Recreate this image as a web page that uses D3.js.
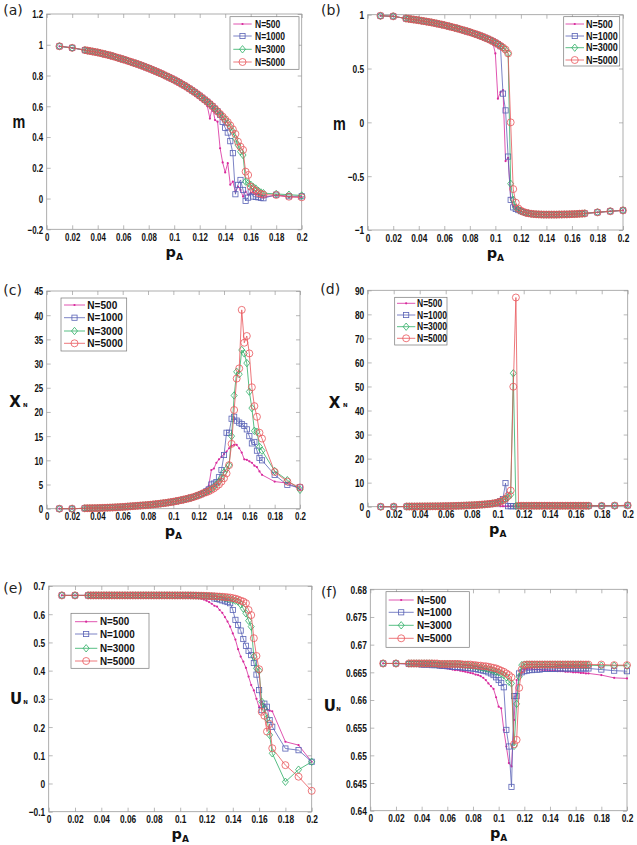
<!DOCTYPE html>
<html><head><meta charset="utf-8">
<script src="https://cdn.jsdelivr.net/npm/d3@7"></script>
<style>body{margin:0;background:#fff}svg{display:block}</style>
</head><body><svg id="chart" width="637" height="845"></svg>
<script>
// ---------- x grid (p_A) ----------
const pA = [0.01,0.02,0.030,0.032,0.034,0.036,0.038,0.040,0.042,0.044,
 0.046,0.048,0.050,0.052,0.054,0.056,0.058,0.060,0.062,0.064,
 0.066,0.068,0.070,0.072,0.074,0.076,0.078,0.080,0.082,0.084,
 0.086,0.088,0.090,0.092,0.094,0.096,0.098,0.100,0.102,0.104,
 0.106,0.108,0.110,0.112,0.114,0.116,0.118,0.120,0.122,0.124,
 0.126,0.128,0.130,0.132,0.134,0.136,0.138,0.140,0.142,0.144,
 0.146,0.148,0.150,0.152,0.154,0.156,0.158,0.160,0.162,0.164,
 0.166,0.168,0.170,0.18,0.19,0.20];
const seriesNames = ["N=500","N=1000","N=3000","N=5000"];
const xTicks = [0,0.02,0.04,0.06,0.08,0.1,0.12,0.14,0.16,0.18,0.2];

// ---------- panel (a): m ----------
const mA_head = [0.99,0.98,0.965,0.962,0.959,0.956,0.953,0.950,0.946,0.942,
 0.938,0.934,0.930,0.925,0.920,0.915,0.910,0.905,0.900,0.894,
 0.889,0.883,0.878,0.872,0.866,0.860,0.853,0.847,0.840,0.833,
 0.826,0.819,0.812,0.804,0.796,0.788,0.780,0.772,0.763,0.754,
 0.744,0.735,0.725,0.714,0.703,0.692,0.680,0.668,0.655,0.642];
const mA_500_tail = [0.600,0.520,0.600,0.510,0.500,0.327,0.235,0.170,0.230,0.090,
 0.110,0.045,0.078,0.056,0.013,0.045,0.024,0.035,0.045,0.030,
 0.030,0.013,0.010,0.020,0.010,0.010];
const mA_1000_tail = [0.629,0.615,0.600,0.584,0.567,0.545,0.498,0.460,0.429,0.373,
 0.295,0.028,0.089,0.121,0.056,-0.015,0.006,0.045,0.013,0.010,
 0.008,0.005,0.002,0.025,0.015,0.015];
const mA_3000_tail = [0.629,0.615,0.600,0.584,0.567,0.550,0.532,0.513,0.490,0.465,
 0.435,0.390,0.348,0.305,0.283,0.110,0.100,0.090,0.075,0.065,
 0.050,0.040,0.035,0.030,0.025,0.020];
const mA_5000_tail = [0.629,0.615,0.600,0.584,0.567,0.550,0.533,0.515,0.497,0.475,
 0.450,0.420,0.370,0.337,0.316,0.175,0.153,0.077,0.060,0.050,
 0.035,0.030,0.025,0.023,0.012,0.008];
const yTicksA = [-0.2,0,0.2,0.4,0.6,0.8,1,1.2];

// ---------- panel (b): m ----------
const mB_head = [0.99,0.985,0.965,0.962,0.958,0.955,0.952,0.948,0.944,0.940,
 0.936,0.932,0.928,0.923,0.918,0.913,0.908,0.903,0.897,0.891,
 0.885,0.879,0.873,0.866,0.859,0.852,0.845,0.838,0.830,0.822];
const mB_500_mid = [0.814,0.805,0.796,0.786,0.776,0.765,0.740,0.640,0.220,0.280,
 0.300,-0.360,-0.330,-0.700,-0.780,-0.800,-0.815,-0.825,-0.832,-0.840];
const mB_1000_mid = [0.814,0.805,0.796,0.786,0.776,0.765,0.753,0.740,0.726,0.707,
 0.267,0.111,-0.318,-0.720,-0.790,-0.805,-0.815,-0.825,-0.832,-0.840];
const mB_3000_mid = [0.814,0.805,0.796,0.786,0.776,0.765,0.753,0.740,0.726,0.711,
 0.695,0.676,0.640,-0.570,-0.720,-0.790,-0.810,-0.825,-0.832,-0.840];
const mB_5000_mid = [0.814,0.805,0.796,0.786,0.776,0.765,0.753,0.740,0.726,0.711,
 0.695,0.676,0.640,0.000,-0.620,-0.746,-0.800,-0.820,-0.832,-0.840];
const mB_low = [-0.845,-0.849,-0.852,-0.854,-0.855,-0.856,-0.857,-0.857,-0.857,-0.857,
 -0.857,-0.857,-0.856,-0.856,-0.855,-0.855,-0.854,-0.853,-0.852,-0.851,
 -0.849,-0.848,-0.846,-0.836,-0.826,-0.818];
const yTicksB = [-1,-0.5,0,0.5,1];

// ---------- panel (c): X_N ----------
const xC_head = [0,0,0.08,0.09,0.10,0.11,0.12,0.13,0.15,0.17,
 0.19,0.21,0.23,0.25,0.28,0.31,0.34,0.37,0.41,0.45,
 0.49,0.53,0.57,0.61,0.65,0.69,0.73,0.77,0.82,0.88,
 0.94,1.00,1.06,1.13,1.20,1.28,1.36,1.45,1.55,1.65];
const xC_500_tail = [1.76,1.88,2.00,2.15,2.30,2.50,2.70,2.95,3.30,3.70,
 4.2,4.8,8.0,8.3,9.5,10.2,10.7,11.3,11.8,12.5,
 13.0,13.2,13.2,12.5,11.6,10.2,10.1,9.8,9.5,8.9,
 8.6,7.7,7.0,5.6,5.3,4.0];
const xC_1000_tail = [1.76,1.88,2.00,2.13,2.27,2.42,2.60,2.80,3.00,3.25,
 3.6,4.0,5.0,5.2,5.5,6.5,8.0,11.1,15.7,15.7,
 18.6,19.0,18.2,17.8,17.5,17.1,16.4,15.0,13.5,13.8,
 12.0,10.5,10.0,7.0,4.9,4.4];
const xC_3000_tail = [1.76,1.88,2.00,2.13,2.27,2.42,2.60,2.80,3.00,3.25,
 3.5,3.8,4.1,4.5,5.0,5.6,6.3,7.5,8.2,9.0,
 15.0,23.4,28.3,27.8,32.8,32.1,30.1,24.2,20.8,16.1,
 15.9,12.8,12.0,7.8,5.9,3.9];
const xC_5000_tail = [1.76,1.88,2.00,2.13,2.27,2.42,2.60,2.80,3.00,3.25,
 3.4,3.6,3.9,4.2,4.6,5.0,5.6,6.3,7.3,9.0,
 13.4,20.4,26.9,29.0,41.1,34.3,35.7,32.1,25.1,21.2,
 19.0,15.7,14.5,7.6,5.6,4.4];
const yTicksC = [0,5,10,15,20,25,30,35,40,45];

// ---------- panel (d): X_N ----------
const xD_head = [0,0,0.08,0.08,0.09,0.09,0.10,0.11,0.12,0.13,
 0.14,0.15,0.16,0.17,0.18,0.20,0.22,0.24,0.26,0.29,
 0.32,0.35,0.38,0.42,0.46,0.50,0.55,0.60,0.65,0.72];
const xD_500_mid = [0.79,0.87,0.96,1.06,1.18,1.32,1.55,2.60,0.2,0.2,
 0.2,0.2,0.2,0.2,0.2,0.2,0.2,0.2,0.2,0.2];
const xD_1000_mid = [0.79,0.87,0.96,1.06,1.18,1.32,1.50,1.75,2.30,3.20,
 9.8,0.2,0.2,0.2,0.2,0.3,0.3,0.3,0.3,0.3];
const xD_3000_mid = [0.79,0.87,0.96,1.06,1.18,1.32,1.50,1.75,2.10,2.60,
 3.2,4.0,5.0,55.5,0.3,0.3,0.3,0.3,0.3,0.3];
const xD_5000_mid = [0.79,0.87,0.96,1.06,1.18,1.32,1.50,1.75,2.10,2.60,
 3.3,4.5,6.7,49.9,87.0,0.4,0.4,0.4,0.4,0.4];
const xD_low = [0.4,0.4,0.4,0.4,0.4,0.4,0.4,0.4,0.4,0.4,
 0.4,0.4,0.4,0.4,0.4,0.4,0.4,0.4,0.4,0.4,
 0.4,0.4,0.4,0.35,0.45,0.55];
const yTicksD = [0,10,20,30,40,50,60,70,80,90];

// ---------- panel (e): U_N ----------
const uE_head = [0.6667,0.6667,0.6667,0.6667,0.6667,0.6667,0.6667,0.6667,0.6667,0.6667,
 0.6667,0.6667,0.6667,0.6667,0.6667,0.6667,0.6667,0.6667,0.6667,0.6667,
 0.6667,0.6667,0.6667,0.6667,0.6667,0.6667,0.6667,0.6667,0.6667,0.6667];
const uE_500_tail = [0.6665,0.6664,0.6663,0.6661,0.6659,0.6656,0.6652,0.6648,0.6643,0.6637,
 0.663,0.662,0.661,0.659,0.657,0.655,0.652,0.648,0.643,0.637,
 0.630,0.627,0.615,0.605,0.590,0.574,0.556,0.532,0.510,0.476,
 0.450,0.432,0.410,0.379,0.349,0.330,0.300,0.270,0.290,0.280,
 0.262,0.258,0.256,0.148,0.136,0.077];
const uE_1000_tail = [0.6667,0.6667,0.6667,0.6666,0.6666,0.6666,0.6665,0.6665,0.6665,0.6664,
 0.6664,0.6662,0.6660,0.6657,0.6654,0.6650,0.6646,0.6640,0.6634,0.6628,
 0.656,0.654,0.652,0.649,0.646,0.643,0.639,0.615,0.580,0.562,
 0.542,0.512,0.488,0.470,0.455,0.427,0.386,0.331,0.260,0.283,
 0.272,0.225,0.201,0.124,0.118,0.077];
const uE_3000_tail = [0.6667,0.6667,0.6667,0.6667,0.6666,0.6666,0.6666,0.6666,0.6665,0.6665,
 0.6665,0.6663,0.6661,0.6659,0.6656,0.6653,0.6650,0.6646,0.6641,0.6636,
 0.663,0.662,0.661,0.660,0.658,0.656,0.654,0.651,0.648,0.645,
 0.635,0.620,0.603,0.577,0.556,0.450,0.408,0.400,0.290,0.266,
 0.230,0.172,0.107,0.006,0.049,0.077];
const uE_5000_tail = [0.6667,0.6667,0.6667,0.6667,0.6666,0.6666,0.6666,0.6666,0.6665,0.6665,
 0.6665,0.6664,0.6663,0.6661,0.6659,0.6657,0.6654,0.6650,0.6646,0.6641,
 0.6636,0.6630,0.6624,0.6617,0.661,0.660,0.659,0.657,0.655,0.652,
 0.648,0.645,0.639,0.615,0.597,0.515,0.452,0.405,0.254,0.240,
 0.184,0.211,0.125,0.065,0.024,-0.026];
const yTicksE = [-0.1,0,0.1,0.2,0.3,0.4,0.5,0.6,0.7];

// ---------- panel (f): U_N (zoom) ----------
const uF_500 = [0.6666,0.6666,0.6665,0.6665,0.6664,0.6664,0.6664,0.6663,0.6663,0.6662,
 0.6662,0.6661,0.6660,0.6660,0.6659,0.6658,0.6658,0.6657,0.6656,0.6655,
 0.6654,0.6654,0.6653,0.6652,0.6651,0.6650,0.6649,0.6648,0.6646,0.6645,
 0.6643,0.6640,0.6636,0.6630,0.6625,0.6620,0.6605,0.6588,0.6585,0.6546,
 0.6516,0.6486,0.6480,0.6564,0.6636,0.6645,0.6650,0.6655,0.6656,0.6656,
 0.6656,0.6655,0.6655,0.6655,0.6654,0.6654,0.6654,0.6653,0.6653,0.6653,
 0.6652,0.6652,0.6652,0.6651,0.6651,0.6651,0.6650,0.6650,0.6650,0.6649,
 0.6649,0.6648,0.6648,0.6645,0.6640,0.6639];
const uF_1000 = [0.6666,0.6666,0.6665,0.6665,0.6665,0.6665,0.6665,0.6664,0.6664,0.6664,
 0.6664,0.6663,0.6663,0.6663,0.6662,0.6662,0.6662,0.6661,0.6661,0.6660,
 0.6660,0.6660,0.6659,0.6659,0.6658,0.6658,0.6657,0.6657,0.6656,0.6655,
 0.6654,0.6653,0.6652,0.6650,0.6648,0.6645,0.6641,0.6636,0.6631,0.6623,
 0.6546,0.6516,0.6443,0.6607,0.6607,0.6648,0.6650,0.6652,0.6653,0.6654,
 0.6654,0.6655,0.6655,0.6655,0.6656,0.6656,0.6656,0.6656,0.6656,0.6656,
 0.6657,0.6657,0.6657,0.6657,0.6657,0.6657,0.6657,0.6657,0.6657,0.6657,
 0.6657,0.6657,0.6657,0.6655,0.6653,0.6652];
const uF_3000 = [0.6666,0.6666,0.6666,0.6666,0.6666,0.6666,0.6666,0.6666,0.6666,0.6666,
 0.6666,0.6666,0.6665,0.6665,0.6665,0.6665,0.6665,0.6665,0.6665,0.6665,
 0.6665,0.6665,0.6664,0.6664,0.6663,0.6663,0.6662,0.6662,0.6661,0.6660,
 0.6659,0.6658,0.6657,0.6656,0.6655,0.6653,0.6651,0.6650,0.6648,0.6645,
 0.6641,0.6633,0.6630,0.6517,0.6593,0.6642,0.6663,0.6664,0.6664,0.6664,
 0.6664,0.6664,0.6664,0.6664,0.6664,0.6664,0.6664,0.6664,0.6664,0.6664,
 0.6664,0.6664,0.6664,0.6664,0.6664,0.6664,0.6664,0.6664,0.6664,0.6664,
 0.6663,0.6663,0.6663,0.6662,0.6662,0.6662];
const uF_5000 = [0.6666,0.6666,0.6666,0.6666,0.6666,0.6666,0.6666,0.6666,0.6666,0.6666,
 0.6666,0.6666,0.6666,0.6666,0.6665,0.6665,0.6665,0.6665,0.6665,0.6665,
 0.6665,0.6665,0.6665,0.6664,0.6664,0.6664,0.6664,0.6663,0.6663,0.6662,
 0.6662,0.6661,0.6661,0.6660,0.6659,0.6658,0.6657,0.6655,0.6653,0.6651,
 0.6648,0.6645,0.6641,0.6520,0.6528,0.6622,0.6655,0.6663,0.6664,0.6664,
 0.6664,0.6664,0.6664,0.6664,0.6664,0.6664,0.6664,0.6664,0.6664,0.6664,
 0.6664,0.6664,0.6664,0.6664,0.6664,0.6664,0.6664,0.6664,0.6664,0.6664,
 0.6664,0.6664,0.6664,0.6664,0.6663,0.6663];
const yTicksF = [0.64,0.645,0.65,0.655,0.66,0.665,0.67,0.675,0.68];

// ---------- assembled series ----------
const mA = [mA_head.concat(mA_500_tail), mA_head.concat(mA_1000_tail), mA_head.concat(mA_3000_tail), mA_head.concat(mA_5000_tail)];
const mB = [mB_head.concat(mB_500_mid, mB_low), mB_head.concat(mB_1000_mid, mB_low), mB_head.concat(mB_3000_mid, mB_low), mB_head.concat(mB_5000_mid, mB_low)];
const xC = [xC_head.concat(xC_500_tail), xC_head.concat(xC_1000_tail), xC_head.concat(xC_3000_tail), xC_head.concat(xC_5000_tail)];
const xD = [xD_head.concat(xD_500_mid, xD_low), xD_head.concat(xD_1000_mid, xD_low), xD_head.concat(xD_3000_mid, xD_low), xD_head.concat(xD_5000_mid, xD_low)];
const uE = [uE_head.concat(uE_500_tail), uE_head.concat(uE_1000_tail), uE_head.concat(uE_3000_tail), uE_head.concat(uE_5000_tail)];
const uF = [uF_500, uF_1000, uF_3000, uF_5000];

[mA,mB,xC,xD,uE,uF].forEach((p,i)=>p.forEach((s,j)=>{ if(s.length!==pA.length) throw new Error("length mismatch panel "+i+" series "+j+": "+s.length); }));

const colors = ["#d8289c","#5a63b6","#2fae66","#e8555b"];
const markers = ["dot","square","diamond","circle"];

const panels = [
 {data:mA, box:[46.7,14,301.7,229.3], yDom:[-0.2,1.2], yTicks:yTicksA, tsx:0.72,
  letter:["(a)",3.3,15], ylab:{t:"m",x:18.8,y:128.3},
  leg:{box:[230,16.7,299,69.3], rows:[24,36,49.3,62], l:[233.3,251.7], tx:255, sx:0.81}},
 {data:mB, box:[367.7,14.7,623,230], yDom:[-1,1], yTicks:yTicksB, tsx:0.76,
  letter:["(b)",321,15], ylab:{t:"m",x:339.5,y:130},
  leg:{box:[563.7,16.7,619.7,66], rows:[24,36,47.7,60], l:[565.5,584], tx:586, sx:0.86}},
 {data:xC, box:[46.7,291,300,508.7], yDom:[0,45], yTicks:yTicksC, tsx:0.72,
  letter:["(c)",3.3,295], ylab:{t:"X",x:9.3,y:407.3,sx:23,sy:406.7},
  leg:{box:[61,298,126.7,351], rows:[305,317.7,331,343.3], l:[64,85], tx:87.3, sx:0.96}},
 {data:xD, box:[367.7,290.3,627.7,506.7], yDom:[0,90], yTicks:yTicksD, tsx:0.76,
  letter:["(d)",320.3,294], ylab:{t:"X",x:328.7,y:408.3,sx:343,sy:407.3},
  leg:{box:[394.7,297.3,447,345], rows:[303.3,315,326.7,338.3], l:[397,415.3], tx:417, sx:0.81}},
 {data:uE, box:[48.7,586,311.7,811.7], yDom:[-0.1,0.7], yTicks:yTicksE, tsx:0.76,
  letter:["(e)",3.3,593.3], ylab:{t:"U",x:10,y:704.3,sx:23.3,sy:704.3},
  leg:{box:[71,613.3,149,668.3], rows:[621.7,634,648.3,661], l:[75,97.3], tx:100, sx:0.94}},
 {data:uF, box:[370.3,589.3,627,810.7], yDom:[0.64,0.68], yTicks:yTicksF, tsx:0.76,
  letter:["(f)",321,597], ylab:{t:"U",x:323.7,y:711,sx:336.3,sy:710.7},
  leg:{box:[386,591.7,469.3,647.3], rows:[600,612.3,625.3,638.3], l:[388.7,413.7], tx:417, sx:0.94}}
];

const svg = d3.select("#chart");
svg.append("rect").attr("width",637).attr("height",845).attr("fill","#fff");
const frameCol = "#9a9a9a";
const tickFont = "'Liberation Sans', Arial, sans-serif";

function fmt(d){ const s = String(+d.toFixed(4)); return s.replace("-","\u2212"); }

function drawMarker(g, type, x, y, color){
  if(type==="dot") g.append("circle").attr("cx",x).attr("cy",y).attr("r",1.1).attr("fill",color);
  else if(type==="square") g.append("rect").attr("x",x-2.6).attr("y",y-2.6).attr("width",5.2).attr("height",5.2)
      .attr("fill","none").attr("stroke",color).attr("stroke-width",0.8);
  else if(type==="diamond") g.append("path").attr("d",`M${x},${y-3.7}L${x+3},${y}L${x},${y+3.7}L${x-3},${y}Z`)
      .attr("fill","none").attr("stroke",color).attr("stroke-width",0.8);
  else g.append("circle").attr("cx",x).attr("cy",y).attr("r",3.5).attr("fill","none").attr("stroke",color).attr("stroke-width",0.8);
}

panels.forEach(p=>{
  const [x0,y0,x1,y1] = p.box;
  const xs = d3.scaleLinear().domain([0,0.2]).range([x0,x1]);
  const ys = d3.scaleLinear().domain(p.yDom).range([y1,y0]);
  const g = svg.append("g");

  // axes with inward ticks
  const bottom = g.append("g").attr("transform",`translate(0,${y1})`)
    .call(d3.axisBottom(xs).tickValues(xTicks).tickSizeInner(-4).tickSizeOuter(0).tickFormat(fmt));
  const top = g.append("g").attr("transform",`translate(0,${y0})`)
    .call(d3.axisTop(xs).tickValues(xTicks).tickSizeInner(-4).tickSizeOuter(0).tickFormat(""));
  const left = g.append("g").attr("transform",`translate(${x0},0)`)
    .call(d3.axisLeft(ys).tickValues(p.yTicks).tickSizeInner(-4).tickSizeOuter(0).tickFormat(fmt));
  const right = g.append("g").attr("transform",`translate(${x1},0)`)
    .call(d3.axisRight(ys).tickValues(p.yTicks).tickSizeInner(-4).tickSizeOuter(0).tickFormat(""));
  [bottom,top,left,right].forEach(a=>{
    a.select(".domain").remove();
    a.selectAll(".tick line").attr("stroke",frameCol).attr("stroke-width",0.7);
  });
  bottom.selectAll("text").attr("y",11.7).attr("dy",null).attr("fill","#111")
    .style("font-family",tickFont).style("font-weight","bold").style("font-size","11px")
    .attr("transform",`scale(${p.tsx},1)`);
  left.selectAll("text").attr("x",-3.5/p.tsx).attr("dy","0.36em").attr("fill","#111")
    .style("font-family",tickFont).style("font-weight","bold").style("font-size","11px")
    .attr("transform",`scale(${p.tsx},1)`);

  g.append("rect").attr("x",x0).attr("y",y0).attr("width",x1-x0).attr("height",y1-y0)
    .attr("fill","none").attr("stroke",frameCol).attr("stroke-width",0.8);

  // series
  const line = d3.line().x((d,i)=>xs(pA[i])).y(d=>ys(d));
  p.data.forEach((s,k)=>{
    const sg = g.append("g");
    sg.append("path").attr("d",line(s)).attr("fill","none").attr("stroke",colors[k]).attr("stroke-width",0.8);
    s.forEach((v,i)=>drawMarker(sg, markers[k], xs(pA[i]), ys(v), colors[k]));
  });

  // legend
  const L = p.leg;
  g.append("rect").attr("x",L.box[0]).attr("y",L.box[1]).attr("width",L.box[2]-L.box[0]).attr("height",L.box[3]-L.box[1])
    .attr("fill","#fff").attr("stroke","#777").attr("stroke-width",0.7);
  seriesNames.forEach((n,k)=>{
    const yy = L.rows[k];
    g.append("line").attr("x1",L.l[0]).attr("x2",L.l[1]).attr("y1",yy).attr("y2",yy).attr("stroke",colors[k]).attr("stroke-width",0.8);
    drawMarker(g, markers[k], (L.l[0]+L.l[1])/2, yy, colors[k]);
    g.append("text").attr("transform",`translate(${L.tx},${yy+3.7}) scale(${L.sx},1)`)
      .style("font-family",tickFont).style("font-weight","bold").style("font-size","10.5px").attr("fill","#111").text(n);
  });

  // panel letter
  g.append("text").attr("x",p.letter[1]).attr("y",p.letter[2]).text(p.letter[0])
    .style("font-family","'DejaVu Sans', sans-serif").style("font-size","14px").attr("fill","#222");

  // x label p_A
  const xl = g.append("text").attr("x",(x0+x1)/2).attr("y",y1+27.5).attr("text-anchor","middle")
    .style("font-family","'DejaVu Sans', sans-serif").style("font-weight","bold").attr("fill","#111");
  xl.append("tspan").style("font-size","14.5px").text("p");
  xl.append("tspan").style("font-size","9px").attr("dy",3).text("A");

  // y label
  const Y = p.ylab;
  if(Y.t==="m"){
    g.append("text").attr("transform",`translate(${Y.x},${Y.y}) scale(0.8,1)`).attr("text-anchor","middle")
      .style("font-family",tickFont).style("font-weight","bold").style("font-size","18px").attr("fill","#111").text("m");
  } else {
    g.append("text").attr("x",Y.x).attr("y",Y.y)
      .style("font-family","'DejaVu Sans', sans-serif").style("font-weight","bold").style("font-size","15px").attr("fill","#111").text(Y.t);
    g.append("text").attr("x",Y.sx).attr("y",Y.sy)
      .style("font-family","'DejaVu Sans', sans-serif").style("font-weight","bold").style("font-size","5.5px").attr("fill","#111").text("N");
  }
});
</script>
</body></html>
